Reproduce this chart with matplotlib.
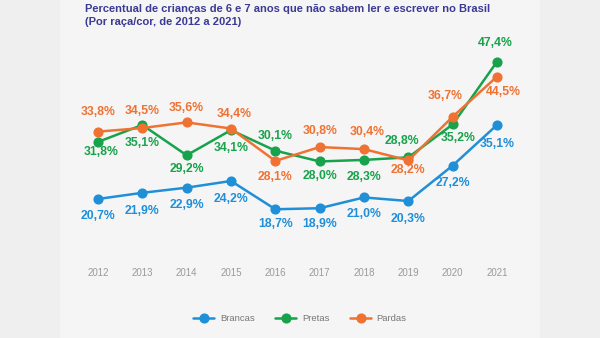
import matplotlib.pyplot as plt
from matplotlib.patches import Rectangle

plt.rcParams['font.family'] = ['Liberation Sans', 'DejaVu Sans']

anos = [2012, 2013, 2014, 2015, 2016, 2017, 2018, 2019, 2020, 2021]
brancas = [20.7, 21.9, 22.9, 24.2, 18.7, 18.9, 21.0, 20.3, 27.2, 35.1]
pretas = [31.8, 35.1, 29.2, 34.1, 30.1, 28.0, 28.3, 28.8, 35.2, 47.4]
pardas = [33.8, 34.5, 35.6, 34.4, 28.1, 30.8, 30.4, 28.2, 36.7, 44.5]

# deslocamento dos rótulos (pixels, x / y)
off_brancas = [(0, -17), (0, -18), (0, -17), (0, -18), (0, -15), (0, -16), (0, -17), (0, -18), (0, -17), (0, -19)]
off_pretas = [(3, -10), (0, -18), (0, -14), (0, -18), (0, 15), (0, -15), (0, -17), (-6, 16), (5, -14), (-2, 19)]
off_pardas = [(0, 20), (0, 17), (0, 14), (3, 15), (0, -16), (0, 16), (3, 17), (0, -10), (-7, 21), (6, -15)]

c_brancas = '#1f8fd8'
c_pretas = '#17a24b'
c_pardas = '#f07232'

fig = plt.figure(figsize=(6, 3.38), dpi=100)
fig.patch.set_facecolor('#efefef')
fig.patches.append(Rectangle((0.1, 0), 0.8, 1, transform=fig.transFigure,
                             facecolor='#f5f5f5', edgecolor='none', zorder=-5))

ax = fig.add_axes([0.1, 0.2308, 0.8, 0.6509])
ax.set_facecolor('none')
ax.set_xlim(2011.143, 2021.97)
ax.set_ylim(8.83, 51.63)
for s in ax.spines.values():
    s.set_visible(False)
ax.set_yticks([])
ax.set_xticks(anos)
ax.set_xticklabels([str(a) for a in anos])
ax.tick_params(axis='x', length=0, pad=6, labelsize=7, labelcolor='#9a9a9a')

series = [
    ('Brancas', brancas, c_brancas, off_brancas),
    ('Pretas', pretas, c_pretas, off_pretas),
    ('Pardas', pardas, c_pardas, off_pardas),
]
for nome, vals, cor, offs in series:
    ax.plot(anos, vals, color=cor, lw=1.8, marker='o', ms=6.3, label=nome,
            solid_capstyle='round', clip_on=False)
    for a, v, (dx, dy) in zip(anos, vals, offs):
        txt = '{:.1f}%'.format(v).replace('.', ',')
        ax.annotate(txt, (a, v), xytext=(dx / 1.389, dy / 1.389),
                    textcoords='offset points', ha='center', va='center',
                    fontsize=8.8, fontweight='bold', color=cor)

leg = ax.legend(loc='center', bbox_to_anchor=(0.5, -0.268), ncol=3, frameon=False,
                fontsize=6.8, handlelength=2.2, columnspacing=2.2, handletextpad=0.6)
for t in leg.get_texts():
    t.set_color('#777777')

fig.text(0.141, 0.973, 'Percentual de crianças de 6 e 7 anos que não sabem ler e escrever no Brasil',
         fontsize=8.0, fontweight='bold', color='#3b3a94', va='center')
fig.text(0.141, 0.935, '(Por raça/cor, de 2012 a 2021)',
         fontsize=8.0, fontweight='bold', color='#3b3a94', va='center')

fig.savefig('out.png', dpi=100, facecolor=fig.get_facecolor())
